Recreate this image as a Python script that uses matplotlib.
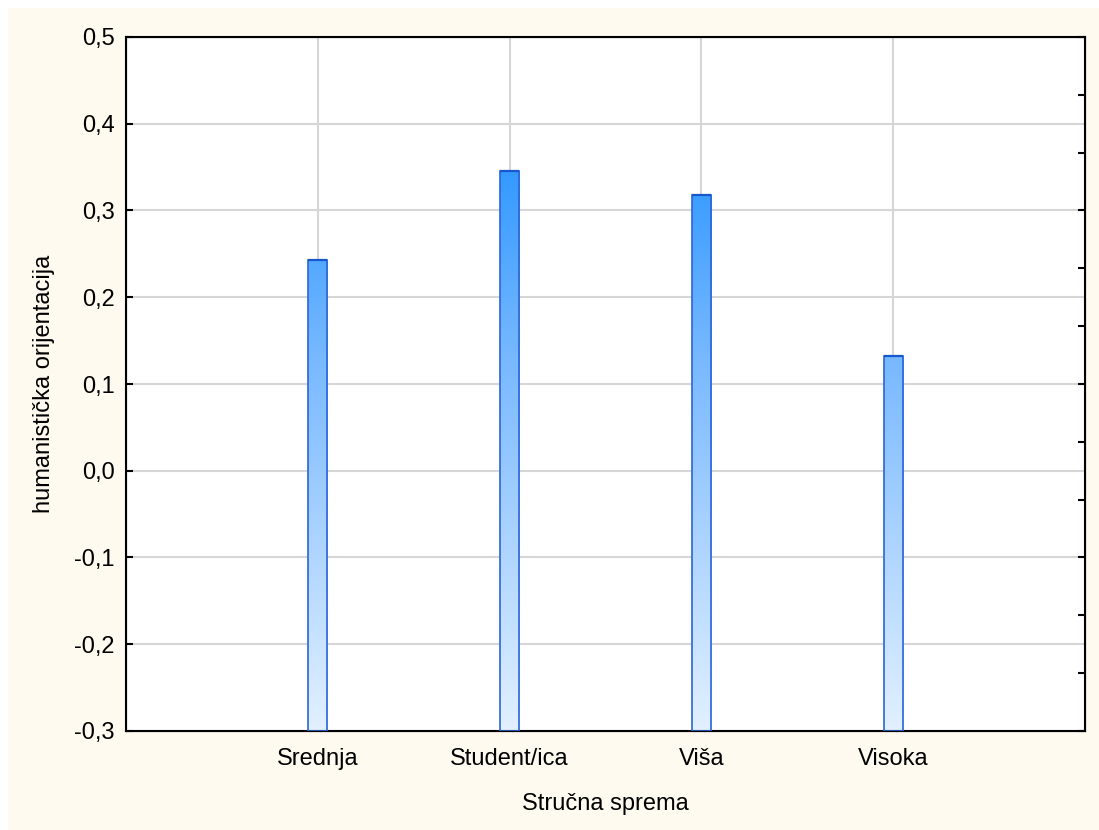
import numpy as np
import matplotlib.pyplot as plt
from matplotlib.colors import LinearSegmentedColormap
from matplotlib.patches import Rectangle
from matplotlib.ticker import FuncFormatter

categories = ["Srednja", "Student/ica", "Viša", "Visoka"]
values = [0.243, 0.346, 0.318, 0.132]
y_ticks = [-0.3, -0.2, -0.1, 0.0, 0.1, 0.2, 0.3, 0.4, 0.5]

plt.rcParams['font.family'] = ['Liberation Sans', 'DejaVu Sans']
fs = 17

fig = plt.figure(figsize=(10.99, 8.30), dpi=100)
fig.patch.set_facecolor("white")
# cream background, leaving a thin white strip on the left and top
fig.patches.append(Rectangle((8 / 1099, 0), 1, 822 / 830, transform=fig.transFigure,
                             facecolor="#fffaf0", edgecolor="none", zorder=-10))

ax = fig.add_axes([126 / 1099, 1 - 731 / 830, (1085 - 126) / 1099, (731 - 37) / 830])
ax.set_facecolor("white")
ymin, ymax = -0.3, 0.5
x = np.arange(1, len(categories) + 1)

# grid
for yt in y_ticks:
    ax.axhline(yt, color="#d6d6d6", lw=1.5, zorder=0)
for xi in x:
    ax.axvline(xi, color="#d6d6d6", lw=1.5, zorder=0)

# gradient fixed to the axis range
cmap = LinearSegmentedColormap.from_list(
    "grad", [(0, "#e2f0ff"), (0.54, "#77b8ff"), (0.81, "#3399ff"), (1, "#1f8cff")])
grad = np.linspace(0, 1, 256).reshape(-1, 1)

bars = ax.bar(x, np.array(values) - ymin, bottom=ymin, width=0.1,
              facecolor="none", edgecolor="#2c64d8", linewidth=1.2, zorder=3)
for b in bars:
    x0 = b.get_x()
    x1 = x0 + b.get_width()
    im = ax.imshow(grad, cmap=cmap, origin="lower", aspect="auto",
                   extent=(x0, x1, ymin, ymax), zorder=2)
    im.set_clip_path(b)
    ax.plot([x0, x1], [b.get_y() + b.get_height()] * 2, color="#1657cc", lw=1.6,
            solid_capstyle="butt", zorder=4)
ax.set_xlim(0, 5)
ax.set_ylim(ymin, ymax)

ax.set_xticks(x)
ax.set_xticklabels(categories)
ax.set_yticks(y_ticks)
ax.yaxis.set_major_formatter(FuncFormatter(lambda v, p: f"{v:.1f}".replace(".", ",")))
ax.tick_params(axis="both", direction="in", length=5, width=1.5, labelsize=fs)
ax.tick_params(axis="x", length=4, width=1.2, pad=12)
ax.tick_params(axis="y", pad=8)

for s in ax.spines.values():
    s.set_linewidth(1.5)
    s.set_color("black")

# right axis with its own inward ticks
ax2 = ax.twinx()
ax2.set_ylim(ymin, ymax)
ax2.set_yticks(np.linspace(ymin, ymax, 13))
ax2.set_yticklabels([])
ax2.tick_params(axis="y", direction="in", length=5, width=1.5)

ax.set_xlabel("Stručna sprema", fontsize=fs, labelpad=17)
ax.set_ylabel("humanistička orijentacija", fontsize=fs, labelpad=14)

fig.savefig("out.png", dpi=100, facecolor=fig.get_facecolor())
